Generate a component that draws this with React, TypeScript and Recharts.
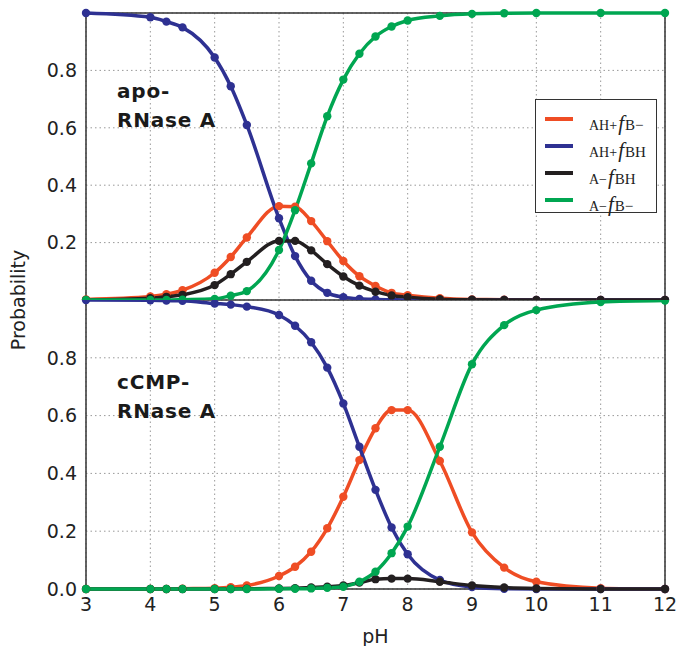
import {
  LineChart,
  Line,
  XAxis,
  YAxis,
  CartesianGrid,
  ReferenceArea,
} from "recharts";

const PH = [3, 4, 4.25, 4.5, 5, 5.25, 5.5, 6, 6.25, 6.5, 6.75, 7, 7.25, 7.5, 7.75, 8, 8.5, 9, 9.5, 10, 11, 12];

// apo-RNase A
const APO_AH_B = [0.002, 0.012, 0.02, 0.034, 0.095, 0.15, 0.218, 0.327, 0.325, 0.275, 0.205, 0.136, 0.083, 0.049, 0.025, 0.017, 0.006, 0.002, 0.001, 0, 0, 0];
const APO_AH_BH = [1.0, 0.985, 0.97, 0.95, 0.845, 0.745, 0.61, 0.285, 0.153, 0.067, 0.025, 0.01, 0.004, 0.002, 0.001, 0, 0, 0, 0, 0, 0, 0];
const APO_A_BH = [0, 0.006, 0.011, 0.018, 0.052, 0.09, 0.133, 0.206, 0.206, 0.173, 0.125, 0.082, 0.05, 0.029, 0.016, 0.01, 0.003, 0.001, 0, 0, 0, 0];
const APO_A_B = [0, 0, 0, 0.001, 0.004, 0.015, 0.031, 0.174, 0.313, 0.476, 0.64, 0.768, 0.858, 0.918, 0.953, 0.974, 0.99, 0.997, 0.999, 1, 1, 1];

// cCMP-RNase A
const CMP_AH_B = [0, 0, 0, 0.001, 0.003, 0.006, 0.012, 0.045, 0.077, 0.129, 0.21, 0.319, 0.446, 0.556, 0.619, 0.619, 0.443, 0.196, 0.074, 0.025, 0.003, 0];
const CMP_AH_BH = [1.0, 0.999, 0.998, 0.997, 0.988, 0.984, 0.977, 0.948, 0.911, 0.854, 0.766, 0.642, 0.492, 0.343, 0.213, 0.12, 0.031, 0.007, 0.001, 0, 0, 0];
const CMP_A_BH = [0, 0, 0, 0, 0, 0, 0.001, 0.002, 0.003, 0.005, 0.008, 0.012, 0.022, 0.034, 0.036, 0.036, 0.025, 0.012, 0.005, 0.002, 0, 0];
const CMP_A_B = [0, 0, 0, 0, 0, 0, 0, 0.001, 0.001, 0.002, 0.004, 0.008, 0.025, 0.06, 0.124, 0.216, 0.492, 0.778, 0.913, 0.965, 0.993, 0.998];

const X_TICKS = [3, 4, 5, 6, 7, 8, 9, 10, 11, 12];
const Y_TICKS = [0, 0.2, 0.4, 0.6, 0.8, 1.0];

const SERIES = [
  { key: "ahB", color: "#ef4d24", sup: "AH+", sub: "B\u2212" },
  { key: "ahBH", color: "#2e3192", sup: "AH+", sub: "BH" },
  { key: "aBH", color: "#231f20", sup: "A\u2212", sub: "BH" },
  { key: "aB", color: "#00a651", sup: "A\u2212", sub: "B\u2212" },
];

const build = (a: number[], b: number[], c: number[], d: number[]) =>
  PH.map((ph, i) => ({ ph, ahB: a[i], ahBH: b[i], aBH: c[i], aB: d[i] }));

const apoData = build(APO_AH_B, APO_AH_BH, APO_A_BH, APO_A_B);
const cmpData = build(CMP_AH_B, CMP_AH_BH, CMP_A_BH, CMP_A_B);

const FONT = "'DejaVu Sans', sans-serif";
const tickStyle = { fontSize: 19, fill: "#222", fontFamily: FONT };

function Panel({ data, height, showX }: { data: any[]; height: number; showX: boolean }) {
  return (
    <LineChart
      width={681}
      height={height}
      data={data}
      margin={{ top: showX ? 0 : 13, right: 16, bottom: 0, left: 0 }}
    >
      <CartesianGrid stroke="#999" strokeDasharray="1.5 3" />
      <XAxis
        dataKey="ph"
        type="number"
        domain={[3, 12]}
        ticks={X_TICKS}
        hide={!showX}
        height={showX ? 57 : 0}
        axisLine={false}
        tickLine={false}
        tickSize={0}
        tickMargin={9}
        tick={tickStyle}
        label={showX ? { value: "pH", position: "insideBottom", offset: 3, style: tickStyle } : undefined}
      />
      <YAxis
        type="number"
        domain={[0, 1]}
        ticks={Y_TICKS}
        width={86}
        axisLine={false}
        tickLine={false}
        tickSize={0}
        tickMargin={9}
        tick={tickStyle}
        tickFormatter={(v: number) => (v >= 1 ? "" : v.toFixed(1))}
      />
      <ReferenceArea x1={3} x2={12} y1={0} y2={1} fill="none" stroke="#333" strokeWidth={1.5} />
      {SERIES.map((s) => (
        <Line
          key={s.key}
          dataKey={s.key}
          type="monotone"
          stroke={s.color}
          strokeWidth={3.5}
          dot={{ r: 4.2, fill: s.color, stroke: s.color, strokeWidth: 0 }}
          isAnimationActive={false}
        />
      ))}
    </LineChart>
  );
}

const noteStyle: React.CSSProperties = {
  position: "absolute",
  left: 117,
  fontFamily: FONT,
  fontWeight: "bold",
  fontSize: 20,
  letterSpacing: 0.8,
  lineHeight: "29px",
  color: "#1a1a1a",
};

export default function App() {
  return (
    <div style={{ position: "relative", width: 681, height: 646, background: "#fff" }}>
      <style>{`body{margin:0}`}</style>
      <Panel data={apoData} height={300} showX={false} />
      <Panel data={cmpData} height={346} showX={true} />

      <div style={{ ...noteStyle, top: 77 }}>
        apo-
        <br />
        RNase A
      </div>
      <div style={{ ...noteStyle, top: 368 }}>
        cCMP-
        <br />
        RNase A
      </div>

      <div
        style={{
          position: "absolute",
          left: 18,
          top: 300,
          transform: "translate(-50%, -50%) rotate(-90deg)",
          fontFamily: FONT,
          fontSize: 19,
          color: "#222",
          whiteSpace: "nowrap",
        }}
      >
        Probability
      </div>

      <div
        style={{
          position: "absolute",
          left: 535,
          top: 99,
          width: 122,
          height: 114,
          border: "1.5px solid #333",
          background: "#fff",
          boxSizing: "border-box",
          fontFamily: "'Liberation Serif', serif",
          color: "#222",
        }}
      >
        {SERIES.map((s, i) => (
          <div
            key={s.key}
            style={{ position: "absolute", left: 9, top: 8 + i * 27, height: 22, display: "flex", alignItems: "center" }}
          >
            <div style={{ width: 28, height: 3.5, background: s.color }} />
            <div style={{ marginLeft: 16, marginTop: 8, whiteSpace: "nowrap", lineHeight: 1 }}>
              <span style={{ fontSize: 14 }}>{s.sup}</span>
              <span style={{ fontSize: 21, fontStyle: "italic", marginLeft: 1 }}>f</span>
              <span style={{ fontSize: 15, marginLeft: 1 }}>{s.sub}</span>
            </div>
          </div>
        ))}
      </div>
    </div>
  );
}
